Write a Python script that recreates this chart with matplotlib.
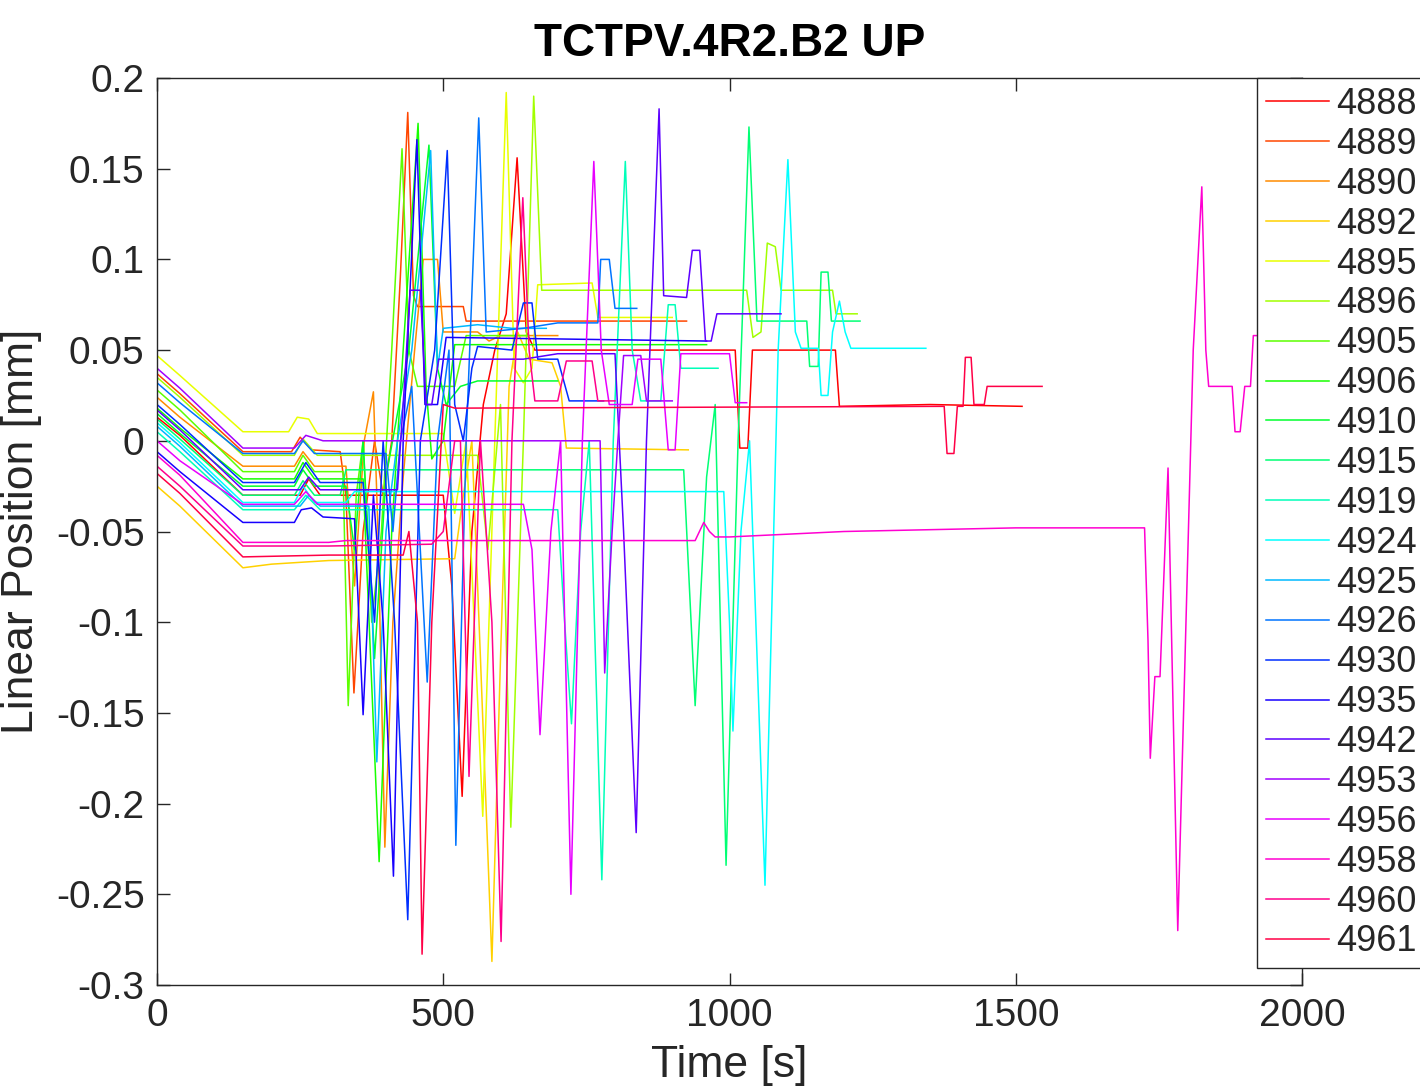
import matplotlib
matplotlib.use("Agg")
import matplotlib.pyplot as plt
from matplotlib.colors import hsv_to_rgb

plt.rcParams["font.family"] = ["Liberation Sans", "DejaVu Sans"]
plt.rcParams["axes.unicode_minus"] = False

# fill numbers, in legend order
fills = ["4888", "4889", "4890", "4892", "4895", "4896", "4905", "4906",
         "4910", "4915", "4919", "4924", "4925", "4926", "4930", "4935",
         "4942", "4953", "4956", "4958", "4960", "4961"]

# (time [s], position [mm]) for each fill
s4888 = [(0, 0.013), (40, 0.003), (150, -0.030), (250, -0.030), (265, -0.021),
         (285, -0.030), (500, -0.030), (515, -0.08), (533, -0.196), (550, -0.05),
         (570, 0.02), (590, 0.05), (610, 0.07), (629, 0.156), (645, 0.06),
         (660, 0.05), (1010, 0.05), (1018, -0.004), (1032, -0.004), (1040, 0.05),
         (1185, 0.05), (1192, 0.019), (1350, 0.020), (1511, 0.019)]
s4889 = [(0, 0.037), (40, 0.026), (150, -0.006), (235, -0.006), (250, 0.002),
         (270, -0.005), (320, -0.006), (330, -0.03), (344, -0.139), (360, -0.05),
         (380, 0.0), (395, -0.03), (410, 0.0), (425, 0.09), (438, 0.181),
         (448, 0.08), (455, 0.074), (535, 0.074), (540, 0.066), (925, 0.066)]
s4890 = [(0, 0.024), (40, 0.013), (150, -0.014), (240, -0.014), (255, -0.006),
         (275, -0.014), (330, -0.014), (345, -0.08), (362, 0.0), (378, 0.027),
         (386, -0.05), (398, -0.224), (412, -0.1), (430, -0.02), (450, 0.05),
         (465, 0.1), (490, 0.1), (500, 0.06), (560, 0.06), (580, 0.055),
         (600, 0.058), (700, 0.058)]
s4892 = [(0, -0.025), (40, -0.036), (150, -0.070), (200, -0.068), (300, -0.066),
         (520, -0.065), (535, -0.03), (550, 0.0), (565, -0.12), (585, -0.287),
         (600, -0.12), (615, 0.03), (630, 0.06), (650, 0.045), (690, 0.043),
         (705, 0.03), (715, -0.004), (928, -0.005)]
s4895 = [(0, 0.047), (40, 0.036), (150, 0.005), (230, 0.005), (245, 0.013),
         (265, 0.012), (280, 0.004), (500, 0.004), (520, -0.04), (540, 0.0),
         (569, -0.207), (590, 0.0), (610, 0.192), (624, 0.04), (640, 0.032),
         (655, 0.04), (665, 0.086), (760, 0.087), (770, 0.068), (900, 0.068)]
s4896 = [(0, 0.035), (40, 0.024), (150, -0.008), (240, -0.008), (255, 0.001),
         (280, -0.008), (560, -0.008), (578, -0.06), (600, 0.02), (618, -0.213),
         (640, 0.0), (658, 0.19), (672, 0.083), (1030, 0.083), (1041, 0.057),
         (1055, 0.06), (1066, 0.109), (1080, 0.107), (1090, 0.083), (1180, 0.083),
         (1186, 0.07), (1223, 0.07)]
s4905 = [(0, 0.028), (40, 0.017), (150, -0.017), (240, -0.017), (255, -0.008),
         (275, -0.017), (325, -0.017), (334, -0.146), (348, -0.03), (360, 0.0),
         (375, -0.1), (392, -0.05), (410, 0.05), (428, 0.161), (440, 0.05),
         (455, 0.03), (520, 0.03), (540, 0.058), (650, 0.058)]
s4906 = [(0, 0.018), (40, 0.007), (150, -0.021), (240, -0.021), (255, -0.012),
         (275, -0.021), (360, -0.021), (388, -0.232), (410, -0.05), (430, 0.05),
         (456, 0.175), (470, 0.03), (480, -0.01), (500, 0.0), (520, 0.053),
         (960, 0.053)]
s4910 = [(0, 0.015), (40, 0.004), (150, -0.025), (240, -0.025), (255, -0.016),
         (275, -0.025), (330, -0.025), (345, -0.06), (360, 0.0), (380, -0.12),
         (400, -0.02), (440, 0.05), (475, 0.163), (490, 0.04), (505, 0.02),
         (530, 0.03), (560, 0.033), (700, 0.033)]
s4915 = [(0, 0.012), (40, 0.001), (150, -0.030), (240, -0.030), (255, -0.022),
         (275, -0.030), (320, -0.030), (330, -0.016), (920, -0.016), (940, -0.146),
         (960, -0.02), (975, 0.02), (994, -0.234), (1015, 0.0), (1034, 0.173),
         (1048, 0.066), (1135, 0.066), (1140, 0.041), (1155, 0.041), (1160, 0.093),
         (1172, 0.093), (1178, 0.066), (1228, 0.066)]
s4919 = [(0, 0.005), (40, -0.006), (150, -0.038), (240, -0.038), (260, -0.030),
         (285, -0.038), (700, -0.038), (712, -0.1), (724, -0.156), (740, -0.05),
         (755, 0.0), (777, -0.242), (797, 0.0), (818, 0.154), (830, 0.05),
         (845, 0.022), (880, 0.022), (893, 0.075), (905, 0.075), (915, 0.04),
         (980, 0.04)]
s4924 = [(0, 0.010), (40, -0.001), (150, -0.034), (240, -0.034), (255, -0.025),
         (275, -0.034), (330, -0.034), (345, -0.028), (990, -0.028), (1000, -0.1),
         (1006, -0.16), (1020, -0.05), (1035, 0.0), (1062, -0.245), (1085, 0.05),
         (1102, 0.155), (1115, 0.06), (1125, 0.051), (1155, 0.051), (1160, 0.025),
         (1172, 0.025), (1180, 0.06), (1192, 0.077), (1202, 0.06), (1212, 0.051),
         (1343, 0.051)]
s4925 = [(0, 0.008), (40, -0.003), (150, -0.036), (250, -0.036), (265, -0.030),
         (285, -0.036), (370, -0.036), (384, -0.177), (400, -0.05), (420, 0.0),
         (445, 0.05), (478, 0.16), (490, 0.04), (500, 0.062), (560, 0.064),
         (620, 0.062), (680, 0.062)]
s4926 = [(0, 0.032), (40, 0.021), (150, -0.007), (240, -0.007), (255, 0.0),
         (275, -0.007), (400, -0.007), (412, -0.05), (425, 0.0), (445, 0.03),
         (472, -0.133), (490, 0.0), (510, 0.05), (522, -0.223), (540, 0.0),
         (562, 0.178), (575, 0.06), (640, 0.062), (700, 0.065), (770, 0.065),
         (775, 0.1), (790, 0.1), (800, 0.073), (838, 0.073)]
s4930 = [(0, 0.020), (40, 0.009), (150, -0.023), (240, -0.023), (260, -0.012),
         (285, -0.023), (360, -0.023), (380, -0.1), (395, 0.0), (415, -0.1),
         (438, -0.264), (460, 0.0), (485, 0.05), (507, 0.16), (520, 0.02),
         (535, 0.0), (550, 0.04), (560, 0.052), (620, 0.05), (640, 0.076),
         (655, 0.076), (665, 0.045), (700, 0.045), (720, 0.022), (780, 0.022)]
s4935 = [(0, -0.006), (40, -0.017), (150, -0.045), (240, -0.045), (252, -0.038),
         (270, -0.037), (290, -0.042), (345, -0.043), (360, -0.151), (378, -0.03),
         (395, -0.1), (413, -0.24), (430, 0.0), (454, 0.166), (468, 0.02),
         (490, 0.02), (505, 0.057), (960, 0.055)]
s4942 = [(0, 0.017), (40, 0.006), (150, -0.027), (250, -0.027), (265, -0.020),
         (285, -0.027), (420, -0.027), (432, 0.03), (442, 0.083), (460, 0.083),
         (470, 0.02), (480, 0.02), (492, 0.045), (640, 0.045), (700, 0.048),
         (800, 0.048), (815, -0.05), (837, -0.216), (855, 0.0), (877, 0.183),
         (885, 0.08), (925, 0.079), (935, 0.105), (948, 0.105), (958, 0.055),
         (968, 0.055), (978, 0.07), (1090, 0.07)]
s4953 = [(0, 0.040), (40, 0.029), (150, -0.004), (240, -0.004), (260, 0.003),
         (290, 0.0), (774, 0.0), (782, -0.128), (795, -0.05), (805, 0.0),
         (815, 0.047), (845, 0.047), (855, 0.022), (900, 0.022)]
s4956 = [(0, 0.0), (40, -0.011), (150, -0.035), (240, -0.035), (260, -0.028),
         (280, -0.035), (640, -0.035), (655, -0.06), (669, -0.162), (688, -0.05),
         (705, 0.0), (723, -0.25), (743, 0.0), (763, 0.154), (776, 0.05),
         (790, 0.02), (830, 0.02), (840, 0.045), (880, 0.045), (893, -0.005),
         (905, -0.005), (915, 0.048), (1000, 0.048), (1010, 0.021), (1030, 0.021)]
s4958 = [(0, -0.008), (40, -0.019), (150, -0.056), (300, -0.056), (330, -0.055),
         (940, -0.055), (955, -0.045), (965, -0.05), (975, -0.053), (1000, -0.053),
         (1200, -0.05), (1500, -0.048), (1725, -0.048), (1731, -0.11),
         (1735, -0.175), (1743, -0.13), (1752, -0.13), (1766, -0.015),
         (1783, -0.27), (1810, 0.05), (1825, 0.14), (1832, 0.05), (1837, 0.03),
         (1878, 0.03), (1883, 0.005), (1892, 0.005), (1900, 0.03), (1910, 0.03),
         (1915, 0.058), (1920, 0.058)]
s4960 = [(0, -0.014), (40, -0.025), (150, -0.058), (300, -0.058), (480, -0.057),
         (500, -0.05), (520, 0.0), (530, 0.0), (545, -0.185), (565, 0.0),
         (585, -0.1), (601, -0.276), (620, 0.0), (639, 0.134), (650, 0.05),
         (660, 0.022), (700, 0.022), (715, 0.044), (760, 0.044), (770, 0.022),
         (800, 0.022)]
s4961 = [(0, -0.018), (40, -0.029), (150, -0.064), (300, -0.063), (430, -0.063),
         (440, -0.05), (455, -0.1), (463, -0.283), (480, -0.1), (500, 0.02),
         (520, 0.018), (1375, 0.019), (1380, -0.007), (1392, -0.007), (1398, 0.019),
         (1408, 0.019), (1412, 0.046), (1422, 0.046), (1427, 0.02), (1445, 0.02),
         (1450, 0.03), (1546, 0.03)]

series = [s4888, s4889, s4890, s4892, s4895, s4896, s4905, s4906, s4910, s4915,
          s4919, s4924, s4925, s4926, s4930, s4935, s4942, s4953, s4956, s4958,
          s4960, s4961]

xticks = [0, 500, 1000, 1500, 2000]
yticks = [-0.3, -0.25, -0.2, -0.15, -0.1, -0.05, 0, 0.05, 0.1, 0.15, 0.2]
ytick_labels = ["-0.3", "-0.25", "-0.2", "-0.15", "-0.1", "-0.05", "0",
                "0.05", "0.1", "0.15", "0.2"]

fig = plt.figure(figsize=(14.2, 10.86), dpi=100)
ax = fig.add_axes([157 / 1420, 1 - 985 / 1086, 1145 / 1420, 907 / 1086])

n = len(fills)
for i, (name, pts) in enumerate(zip(fills, series)):
    color = hsv_to_rgb((i / n, 1.0, 1.0))
    t = [p[0] for p in pts]
    v = [p[1] for p in pts]
    ax.plot(t, v, "-", color=color, lw=1.1, label=name)

ax.set_xlim(0, 2000)
ax.set_ylim(-0.3, 0.2)
ax.set_xticks(xticks)
ax.set_xticklabels([str(x) for x in xticks])
ax.set_yticks(yticks)
ax.set_yticklabels(ytick_labels)
ax.tick_params(direction="in", length=9, width=1, top=True, right=True,
               labelsize=28, pad=9, colors="#262626", labelcolor="#262626")
for sp in ax.spines.values():
    sp.set_color("#262626")
    sp.set_linewidth(1.0)

ax.set_title("TCTPV.4R2.B2 UP", fontsize=33, fontweight="bold", pad=16)
ax.set_xlabel("Time [s]", fontsize=32, color="#262626", labelpad=8)
ax.set_ylabel("Linear Position [mm]", fontsize=32, color="#262626", labelpad=10)

leg = ax.legend(loc="upper left", bbox_to_anchor=(1100 / 1145, 1.0),
                borderaxespad=0, fontsize=26, frameon=True, fancybox=False,
                framealpha=1.0, handlelength=1.75, handletextpad=0.2,
                labelspacing=0.135, borderpad=0.25)
leg.get_frame().set_edgecolor("#262626")
leg.get_frame().set_linewidth(1.0)
for txt in leg.get_texts():
    txt.set_color("#262626")

fig.savefig("out.png", dpi=100)
